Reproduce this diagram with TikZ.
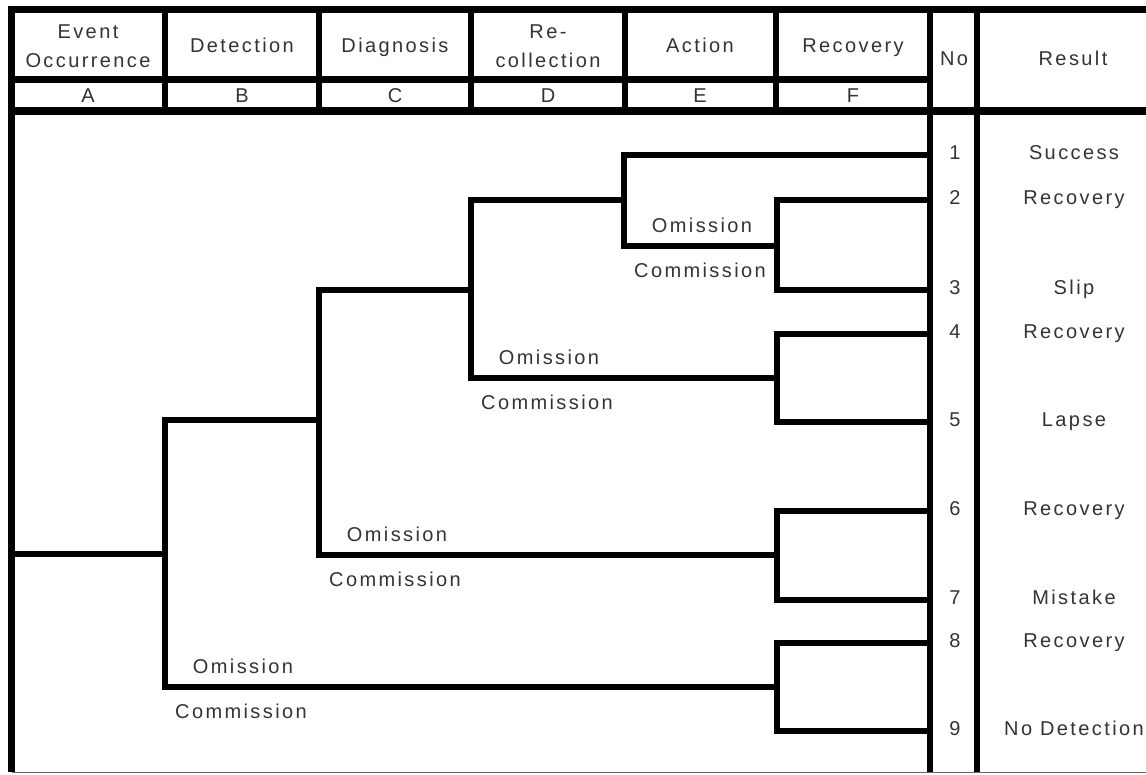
\documentclass[tikz,border=0pt]{standalone}
\usepackage{fontspec}
\setmainfont{Liberation Sans}[LetterSpace=12]
\begin{document}
\begin{tikzpicture}[x=1pt,y=-1pt,
  txt/.style={font=\fontsize{20}{24}\selectfont, text=black!80, inner sep=0pt, text height=14pt, text depth=0pt, anchor=center},
  br/.style={line width=5.5pt, line join=miter, line cap=rect},
  rulev/.style={line width=6pt},
  ruleh/.style={line width=7pt},
]
\fill[white] (0,0) rectangle (1146,774);
\useasboundingbox (0,0) rectangle (1146,774);

% ---------- frame and header rules ----------
\draw[ruleh, line join=miter] (11.5,772) -- (11.5,9.5) -- (1146,9.5);
\draw[ruleh] (11.5,79.5) -- (930,79.5);
\draw[line width=8pt] (11.5,111) -- (1146,111);
\foreach \x in {165,319,471,625,776} \draw[rulev] (\x,9.5) -- (\x,111);
\draw[rulev] (930,9.5) -- (930,772);
\draw[rulev] (977,9.5) -- (977,772);
\draw[line width=1.5pt, black!60] (11.5,772.5) -- (1146,772.5);

% ---------- header text ----------
\node[txt] (hA1) at (88,31) {Event};
\node[txt] (hA2) at (88,60) {Occurrence};
\node[txt] (hB) at (242,45) {Detection};
\node[txt] (hC) at (395,45) {Diagnosis};
\node[txt] (hD1) at (548,31) {Re-};
\node[txt] (hD2) at (548,60) {collection};
\node[txt] (hE) at (700,45) {Action};
\node[txt] (hF) at (853,45) {Recovery};
\node[txt] (hNo) at (954,58) {No};
\node[txt] (hRes) at (1073,58) {Result};
\node[txt] (lA) at (88,95) {A};
\node[txt] (lB) at (242,95) {B};
\node[txt] (lC) at (395,95) {C};
\node[txt] (lD) at (548,95) {D};
\node[txt] (lE) at (700,95) {E};
\node[txt] (lF) at (853,95) {F};

% ---------- tree coordinates ----------
\coordinate (a0) at (11.5,554);
\coordinate (b0) at (165,554);
\coordinate (b1) at (165,420);
\coordinate (b2) at (165,687);
\coordinate (c0) at (319,420);
\coordinate (c1) at (319,290);
\coordinate (c2) at (319,555);
\coordinate (d0) at (471,290);
\coordinate (d1) at (471,200);
\coordinate (d2) at (471,378);
\coordinate (e0) at (624,200);
\coordinate (e1) at (624,155);
\coordinate (e2) at (624,246);
\coordinate (f1) at (777,246);
\coordinate (f1a) at (777,200);
\coordinate (f1b) at (777,290);
\coordinate (f2) at (777,378);
\coordinate (f2a) at (777,334);
\coordinate (f2b) at (777,422);
\coordinate (f3) at (777,555);
\coordinate (f3a) at (777,511);
\coordinate (f3b) at (777,600);
\coordinate (f4) at (777,687);
\coordinate (f4a) at (777,643);
\coordinate (f4b) at (777,731);
\foreach \i/\y in {1/155,2/200,3/290,4/334,5/422,6/511,7/600,8/643,9/731}
  \coordinate (l\i) at (930,\y);

% ---------- tree ----------
\draw[br] (a0) -- (b0);
\draw[br] (c0) -- (b1) -- (b2) -- (f4);
\draw[br] (d0) -- (c1) -- (c2) -- (f3);
\draw[br] (e0) -- (d1) -- (d2) -- (f2);
\draw[br] (l1) -- (e1) -- (e2) -- (f1);
\draw[br] (l2) -- (f1a) -- (f1b) -- (l3);
\draw[br] (l4) -- (f2a) -- (f2b) -- (l5);
\draw[br] (l6) -- (f3a) -- (f3b) -- (l7);
\draw[br] (l8) -- (f4a) -- (f4b) -- (l9);

% ---------- branch labels ----------
\node[txt] (omB) at (243,666) {Omission};
\node[txt] (coB) at (241,711) {Commission};
\node[txt] (omC) at (397,534) {Omission};
\node[txt] (coC) at (395,579) {Commission};
\node[txt] (omD) at (549,357) {Omission};
\node[txt] (coD) at (547,402) {Commission};
\node[txt] (omE) at (702,225) {Omission};
\node[txt] (coE) at (700,270) {Commission};

% ---------- numbers and results ----------
\foreach \i/\y/\r in {1/152/Success,2/197/Recovery,3/287/Slip,4/331/Recovery,5/419/Lapse,6/508/Recovery,7/597/Mistake,8/640/Recovery,9/728/No Detection} {
  \node[txt] (n\i) at (955,\y) {\i};
  \node[txt] (r\i) at (1074,\y) {\r};
}
\end{tikzpicture}
\end{document}
